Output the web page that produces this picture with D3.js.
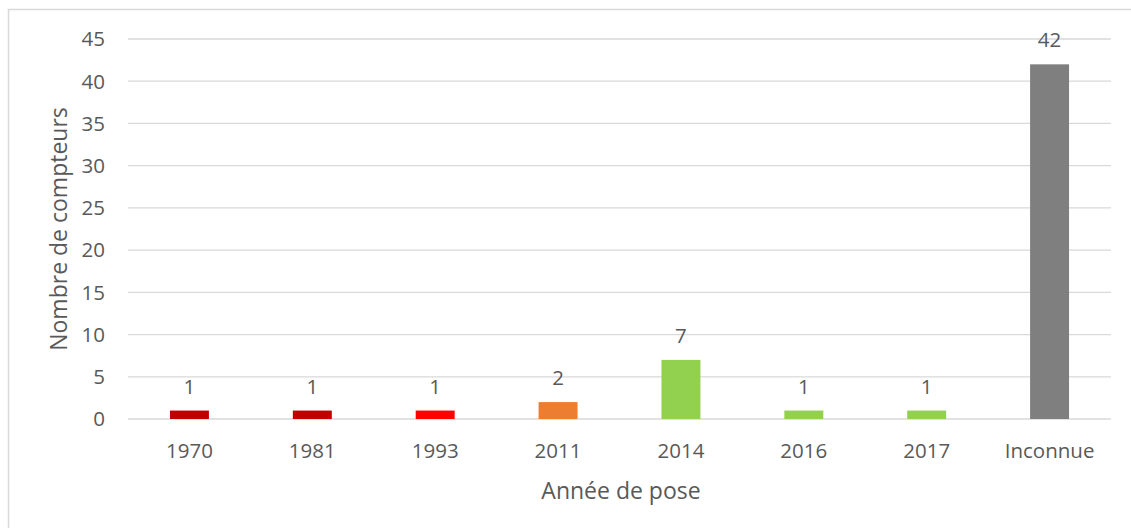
<!DOCTYPE html>
<html><head><meta charset="utf-8">
<script src="https://cdn.jsdelivr.net/npm/d3@7"></script>
<style>body{margin:0;background:#fff}svg{display:block}text{font-family:"Open Sans",sans-serif;fill:#595959}</style>
</head><body><svg id="c" width="1131" height="528"></svg>
<script>
const categories = ["1970","1981","1993","2011","2014","2016","2017","Inconnue"];
const values = [1,1,1,2,7,1,1,42];
const colors = ["#C00000","#C00000","#FF0000","#ED7D31","#92D050","#92D050","#92D050","#7F7F7F"];
const yTicks = [0,5,10,15,20,25,30,35,40,45];

const svg = d3.select("#c");
svg.append("rect").attr("x",8.5).attr("y",9.5).attr("width",1140).attr("height",540)
  .attr("fill","#fff").attr("stroke","#d9d9d9").attr("stroke-width",1.5);

const m = {l:128, r:1111, t:39, b:419};
const x = d3.scaleBand().domain(categories).range([m.l,m.r]).paddingInner(0.683).paddingOuter(0.3415);
const y = d3.scaleLinear().domain([0,45]).range([m.b,m.t]);

const g = svg.append("g");
g.selectAll("line.grid").data(yTicks).enter().append("line")
  .attr("x1",m.l).attr("x2",m.r).attr("y1",d=>y(d)).attr("y2",d=>y(d))
  .attr("stroke","#d9d9d9").attr("stroke-width",1.3);

g.selectAll("text.yt").data(yTicks).enter().append("text")
  .attr("x",105).attr("y",d=>y(d)).attr("dy","0.36em").attr("text-anchor","end")
  .attr("font-size",20.5).text(d=>d);

g.selectAll("rect.bar").data(values).enter().append("rect")
  .attr("x",(d,i)=>x(categories[i])).attr("width",x.bandwidth())
  .attr("y",d=>y(d)).attr("height",d=>y(0)-y(d)).attr("fill",(d,i)=>colors[i]);

g.selectAll("text.lab").data(values).enter().append("text")
  .attr("x",(d,i)=>x(categories[i])+x.bandwidth()/2).attr("y",d=>y(d)-17)
  .attr("text-anchor","middle").attr("font-size",20.5).text(d=>d);

g.selectAll("text.xt").data(categories).enter().append("text")
  .attr("x",d=>x(d)+x.bandwidth()/2).attr("y",458)
  .attr("text-anchor","middle").attr("font-size",20.5).text(d=>d);

svg.append("text").attr("x",621).attr("y",499).attr("text-anchor","middle")
  .attr("font-size",23).text("Année de pose");
svg.append("text").attr("transform","translate(67,229) rotate(-90)").attr("text-anchor","middle")
  .attr("font-size",23).text("Nombre de compteurs");
</script></body></html>
